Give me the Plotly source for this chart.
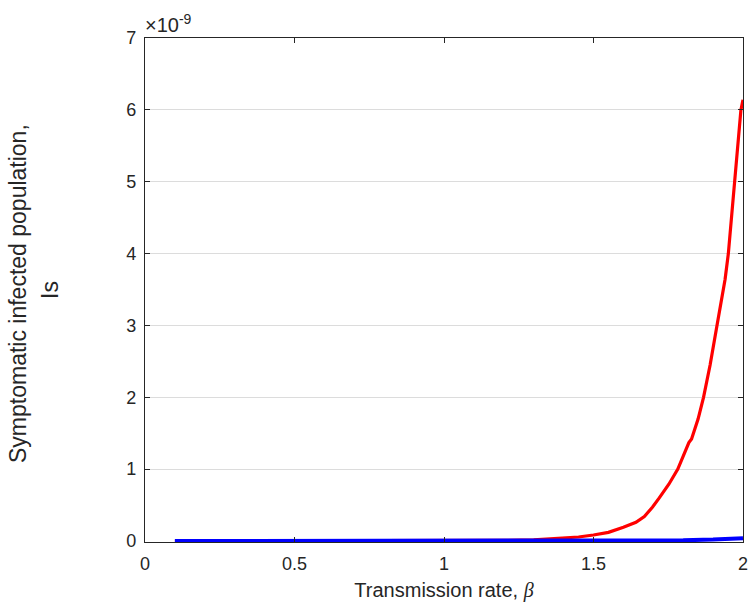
import plotly.graph_objects as go

# Data (values in units of 1e-9)
beta_red = [0.1, 0.2, 0.3, 0.4, 0.5, 0.6, 0.7, 0.8, 0.9, 1.0, 1.1, 1.2, 1.3, 1.4, 1.45,
            1.5, 1.55, 1.6, 1.642, 1.67, 1.697, 1.72, 1.752, 1.782, 1.80, 1.819, 1.828,
            1.85, 1.868, 1.89, 1.913, 1.94, 1.951, 1.972, 1.993, 2.0]
is_red = [0.0, 0.0, 0.0, 0.0, 0.0, 0.0, 0.0, 0.001, 0.001, 0.0015, 0.0034, 0.0075, 0.017,
          0.037, 0.056, 0.083, 0.12, 0.19, 0.26, 0.34, 0.47, 0.6, 0.79, 1.0, 1.17, 1.37, 1.42,
          1.7, 2.0, 2.45, 3.0, 3.64, 4.0, 5.0, 6.0, 6.14]

beta_blue = [0.1, 0.5, 1.0, 1.5, 1.6, 1.7, 1.8, 1.9, 1.95, 2.0]
is_blue = [0.0, 0.0, 0.0, 0.001, 0.003, 0.005, 0.01, 0.02, 0.028, 0.04]

x_ticks = [0, 0.5, 1, 1.5, 2]
x_tick_labels = ["0", "0.5", "1", "1.5", "2"]
y_ticks = [0, 1, 2, 3, 4, 5, 6, 7]
y_tick_labels = ["0", "1", "2", "3", "4", "5", "6", "7"]

FONT = "Liberation Sans, Arial, sans-serif"
AXC = "#262626"

fig = go.Figure()
fig.add_trace(go.Scatter(x=beta_red, y=is_red, mode="lines",
                         line=dict(color="#ff0000", width=3.2), showlegend=False))
fig.add_trace(go.Scatter(x=beta_blue, y=is_blue, mode="lines",
                         line=dict(color="#0000ff", width=4), showlegend=False))

fig.update_layout(
    width=750, height=602,
    margin=dict(l=145, r=2, t=38, b=59),
    paper_bgcolor="white", plot_bgcolor="white",
    font=dict(family=FONT, size=18, color=AXC),
    xaxis=dict(range=[0, 2], tickvals=x_ticks, ticktext=x_tick_labels,
               showline=True, linecolor=AXC, linewidth=1.3, mirror="ticks",
               ticks="inside", ticklen=5, tickcolor=AXC, tickwidth=1.3,
               showgrid=False, zeroline=False, ticklabelstandoff=5,
               ticklabeloverflow="allow",
               tickfont=dict(family=FONT, size=18, color=AXC),
               title=dict(text="Transmission rate, <span style='font-family:Liberation Serif;font-style:italic'>β</span>",
                          font=dict(family=FONT, size=20, color=AXC), standoff=12)),
    yaxis=dict(range=[-1 / 72, 7], tickvals=y_ticks, ticktext=y_tick_labels,
               showline=True, linecolor=AXC, linewidth=1.3, mirror="ticks",
               ticks="inside", ticklen=5, tickcolor=AXC, tickwidth=1.3,
               showgrid=True, gridcolor="#dcdcdc", gridwidth=1.3,
               zeroline=False, ticklabelstandoff=4,
               tickfont=dict(family=FONT, size=18, color=AXC)),
)

fig.add_annotation(xref="paper", yref="paper", x=0, y=0.5, xshift=-127, yshift=-4,
                   text="Symptomatic infected population,", textangle=-90,
                   showarrow=False, font=dict(family=FONT, size=23, color=AXC),
                   xanchor="center", yanchor="middle")
fig.add_annotation(xref="paper", yref="paper", x=0, y=0.5, xshift=-95, yshift=0,
                   text="Is", textangle=-90,
                   showarrow=False, font=dict(family=FONT, size=23, color=AXC),
                   xanchor="center", yanchor="middle")
fig.add_annotation(xref="paper", yref="paper", x=0, y=1, xshift=-2, yshift=0,
                   text="×10<sup>-9</sup>", showarrow=False,
                   font=dict(family=FONT, size=20, color=AXC),
                   xanchor="left", yanchor="bottom")

fig.write_html(
    "out.html",
    config={"displayModeBar": False},
    post_script="document.body.style.margin='0';"
                "document.body.style.overflow='hidden';"
                "document.documentElement.style.overflow='hidden';",
)
